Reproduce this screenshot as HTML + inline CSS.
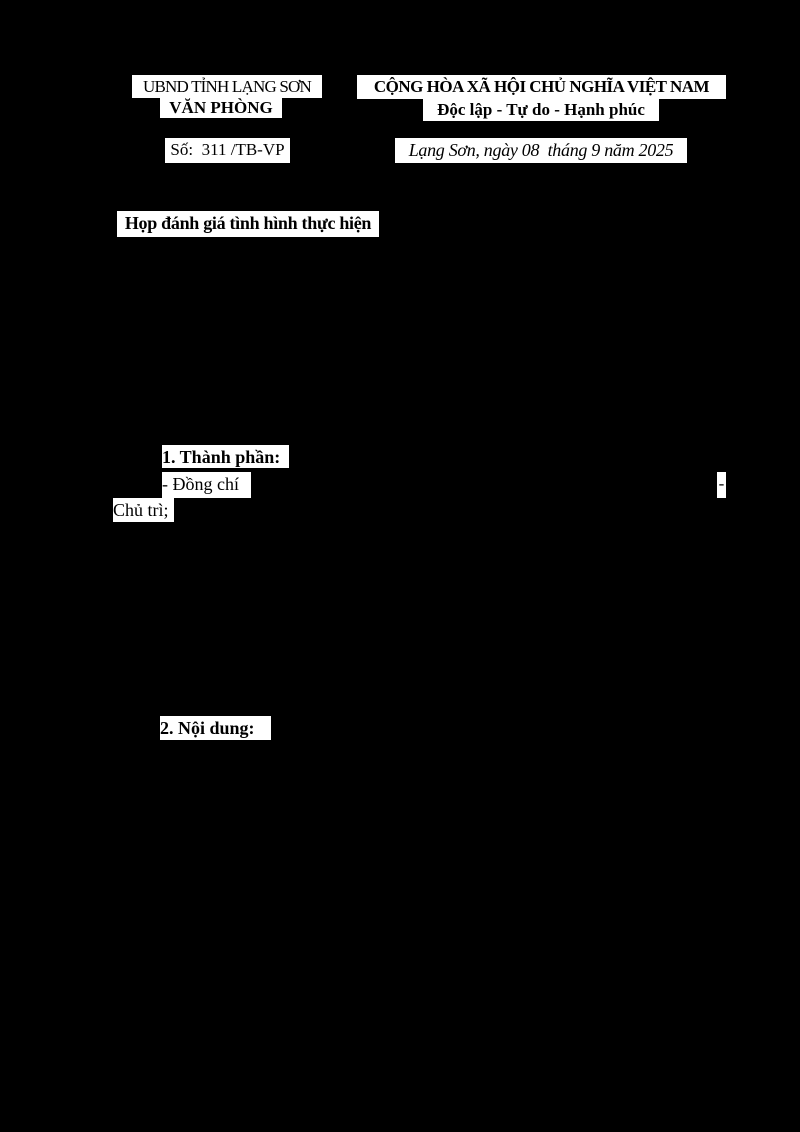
<!DOCTYPE html>
<html><head><meta charset="utf-8"><style>
html,body{margin:0;padding:0;background:#000;}
body{width:800px;height:1132px;position:relative;overflow:hidden;font-family:"Liberation Serif",serif;}
.b{position:absolute;background:#fff;color:#000;font-size:17px;line-height:24px;white-space:nowrap;overflow:hidden;text-align:center;}
.bo{font-weight:bold;}
.i{font-style:italic;}
</style></head><body>
<div class="b" style="left:132px;top:75px;width:190px;height:23px;letter-spacing:-0.8px;">UBND TỈNH LẠNG SƠN</div>
<div class="b bo" style="left:160px;top:97px;width:122px;height:21px;line-height:22px;">VĂN PHÒNG</div>
<div class="b bo" style="left:357px;top:75px;width:369px;height:24px;letter-spacing:-0.5px;">CỘNG HÒA XÃ HỘI CHỦ NGHĨA VIỆT NAM</div>
<div class="b bo" style="left:423px;top:98px;width:236px;height:23px;">Độc lập - Tự do - Hạnh phúc</div>
<div class="b" style="left:165px;top:138px;width:125px;height:25px;">Số:&nbsp; 311 /TB-VP</div>
<div class="b i" style="left:395px;top:138px;width:292px;height:25px;font-size:18px;letter-spacing:-0.3px;">Lạng Sơn, ngày 08&nbsp; tháng 9 năm 2025</div>
<div class="b bo" style="left:117px;top:211px;width:262px;height:26px;font-size:18px;letter-spacing:-0.3px;">Họp đánh giá tình hình thực hiện</div>
<div class="b bo" style="left:162px;top:445px;width:127px;height:23px;font-size:18px;text-align:left;">1. Thành phần:</div>
<div class="b" style="left:162px;top:472px;width:89px;height:26px;text-align:left;font-size:18px;">- Đồng chí</div>
<div class="b" style="left:717px;top:472px;width:9px;height:26px;">-</div>
<div class="b" style="left:113px;top:498px;width:61px;height:24px;text-align:left;font-size:18px;">Chủ trì;</div>
<div class="b bo" style="left:160px;top:716px;width:111px;height:24px;text-align:left;font-size:18px;">2. Nội dung:</div>
</body></html>
